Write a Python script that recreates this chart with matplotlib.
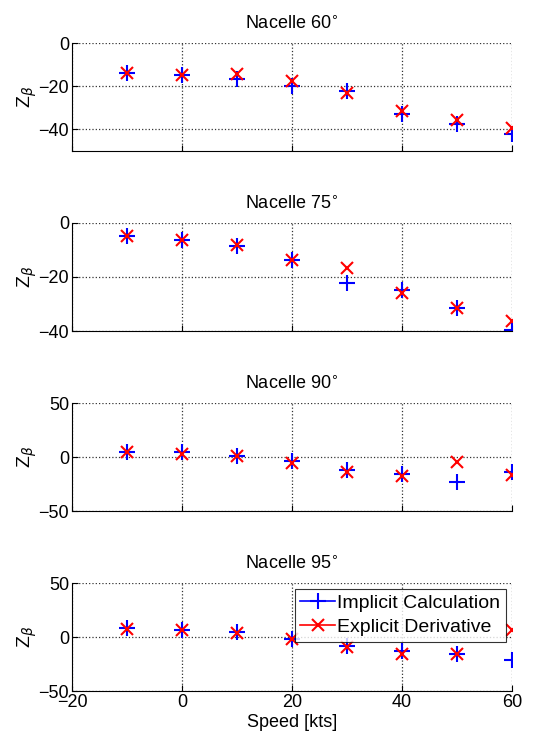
import matplotlib.pyplot as plt
from matplotlib.lines import Line2D

plt.rcParams['font.family'] = ['Liberation Sans', 'DejaVu Sans']

# Data
speed = [-10, 0, 10, 20, 30, 40, 50, 60]
nacelle = [60, 75, 90, 95]
implicit = [
    [-14, -15, -16.6, -19.7, -22.2, -32.7, -37.7, -42],
    [-5, -6.2, -8.7, -13.8, -22.1, -24.9, -31.5, -39.5],
    [4.6, 4.6, 1.2, -3.4, -11.6, -16.2, -23.2, -14],
    [8.6, 6.7, 4.9, -1.5, -8, -12.9, -16.2, -21.4],
]
explicit = [
    [-14, -15, -14.4, -17.5, -23, -31.5, -35.8, -39.5],
    [-5, -6.2, -8.3, -13.8, -16.5, -26, -31.5, -36.2],
    [4.6, 3, 0.6, -5.5, -13.8, -17.7, -4.6, -17],
    [7.6, 6.7, 3.4, -1.5, -9.5, -16, -16.2, 6.1],
]
ylims = [(-50, 0), (-40, 0), (-50, 50), (-50, 50)]
yticks = [[-40, -20, 0], [-40, -20, 0], [-50, 0, 50], [-50, 0, 50]]
xticks = [-20, 0, 20, 40, 60]

fig = plt.figure(figsize=(5.45, 7.4), dpi=100)
W, H = 545, 740
tops = [43, 223, 403, 583]
height = 108

for i in range(4):
    ax = fig.add_axes([72 / W, 1 - (tops[i] + height) / H, 440 / W, height / H])
    ax.plot(speed, implicit[i], '+', color='#0000ff', markersize=11, markeredgewidth=1.5)
    ax.plot(speed, explicit[i], 'x', color='#ff0000', markersize=8, markeredgewidth=1.5)
    ax.set_xlim(-20, 60)
    ax.set_ylim(*ylims[i])
    ax.set_xticks(xticks)
    ax.set_yticks(yticks[i])
    ax.grid(True, linestyle=':', color='#333333', linewidth=0.9)
    ax.spines['top'].set_visible(False)
    ax.spines['right'].set_visible(False)
    ax.tick_params(direction='in', labelsize=13, length=4, pad=2)
    ax.set_title(f'Nacelle {nacelle[i]}$^{{\\circ}}$', fontsize=13, pad=10)
    ax.set_ylabel(r'Z$_\beta$', fontsize=14, labelpad=0)
    if i < 3:
        ax.tick_params(labelbottom=False)
    else:
        ax.set_xlabel('Speed [kts]', fontsize=13, labelpad=2)
        handles = [
            Line2D([], [], color='#0000ff', marker='+', markersize=11, markeredgewidth=1.5, linewidth=1.2),
            Line2D([], [], color='#ff0000', marker='x', markersize=8, markeredgewidth=1.5, linewidth=1.2),
        ]
        leg = ax.legend(handles, ['Implicit Calculation', 'Explicit Derivative'],
                        loc='upper right', fontsize=14, frameon=True, fancybox=False,
                        edgecolor='black', borderaxespad=0.3, handlelength=1.8,
                        handletextpad=0.1, borderpad=0.3, labelspacing=0.3)
        leg.get_frame().set_linewidth(0.8)

fig.savefig('out.png', dpi=100)
